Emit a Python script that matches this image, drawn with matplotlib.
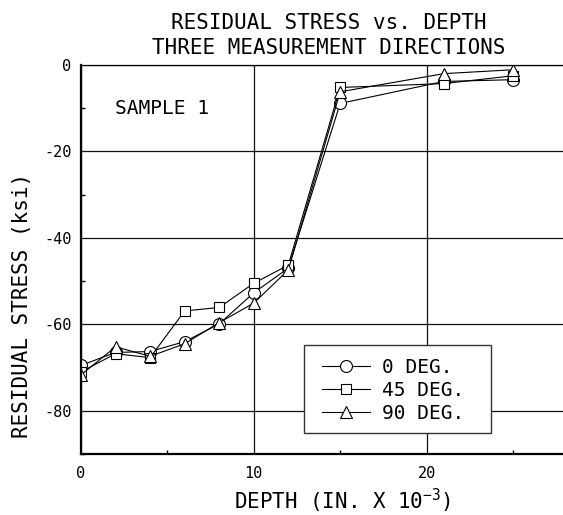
import matplotlib
matplotlib.use("Agg")
import matplotlib.pyplot as plt
from matplotlib.ticker import MultipleLocator
from matplotlib.patches import Rectangle

# ---- data ----
depth = [0, 2, 4, 6, 8, 10, 12, 15, 21, 25]
stress_0deg = [-69.5, -66.5, -66.3, -64.0, -59.9, -52.7, -47.0, -8.9, -3.8, -3.4]
stress_45deg = [-71.0, -66.8, -67.7, -56.9, -56.1, -50.5, -46.3, -5.2, -4.3, -2.5]
stress_90deg = [-71.7, -65.2, -67.4, -64.5, -59.6, -55.1, -47.4, -6.2, -2.0, -1.1]
labels = ["0 DEG.", "45 DEG.", "90 DEG."]
x_ticks = [0, 10, 20]
y_ticks = [0, -20, -40, -60, -80]

plt.rcParams['mathtext.fontset'] = 'custom'
plt.rcParams['mathtext.rm'] = 'DejaVu Sans Mono'
plt.rcParams['mathtext.it'] = 'DejaVu Sans Mono'
plt.rcParams['axes.unicode_minus'] = False

MONO = 'DejaVu Sans Mono'

W, H = 563, 515
fig = plt.figure(figsize=(W / 100, H / 100), dpi=100)
ax = fig.add_axes([81 / W, 1 - 454 / H, 1 - 81 / W, (454 - 65) / H])

series = [(stress_0deg, 'o', 8.6), (stress_45deg, 's', 7.6), (stress_90deg, '^', 9.2)]
for vals, mk, ms in series:
    ax.plot(depth, vals, color='black', lw=0.8, marker=mk, ms=ms,
            mfc='white', mec='black', mew=0.8)

ax.set_xlim(0, 27.9)
ax.set_ylim(-90, 0)
ax.set_xticks(x_ticks)
ax.set_yticks(y_ticks)
ax.xaxis.set_minor_locator(MultipleLocator(5))
ax.yaxis.set_minor_locator(MultipleLocator(10))
ax.tick_params(which='major', length=0, labelsize=11)
ax.tick_params(axis='y', which='major', pad=7)
ax.tick_params(axis='x', which='major', pad=9)
ax.tick_params(which='minor', direction='in', length=3, width=1)
for lab in ax.get_xticklabels() + ax.get_yticklabels():
    lab.set_fontfamily(MONO)
ax.grid(True, which='major', color='#111111', lw=0.9)
ax.set_axisbelow(True)

ax.spines['right'].set_visible(False)
ax.spines['top'].set_linewidth(0.9)
ax.spines['left'].set_linewidth(1.6)
ax.spines['bottom'].set_linewidth(1.6)

# legend frame
frame = Rectangle((304 / W, 1 - 433 / H), (491 - 304) / W, (433 - 345) / H,
                  transform=fig.transFigure, facecolor='white', edgecolor='#333333',
                  lw=1.0, zorder=5)
fig.add_artist(frame)
leg = fig.legend(ax.get_lines(), labels, loc='upper left',
                 bbox_to_anchor=(322 / W, 1 - 358 / H), bbox_transform=fig.transFigure,
                 prop={'family': MONO, 'size': 14}, frameon=False,
                 borderpad=0, handlelength=2.45, handletextpad=0.62,
                 labelspacing=0.2, borderaxespad=0)
leg.set_zorder(6)

ax.text(115 / W, 1 - 114 / H, "SAMPLE 1", transform=fig.transFigure,
        family=MONO, size=14, va='baseline', ha='left')

fig.text(329 / W, 1 - 29.4 / H, "RESIDUAL STRESS vs. DEPTH", family=MONO,
         size=15, ha='center', va='baseline')
fig.text(329 / W, 1 - 53.9 / H, "THREE MEASUREMENT DIRECTIONS", family=MONO,
         size=15, ha='center', va='baseline')
fig.text(343 / W, 1 - 509 / H, r"DEPTH (IN. X 10$^{-3}$)", family=MONO,
         size=15, ha='center', va='baseline')
fig.text(22 / W, 1 - 305 / H, "RESIDUAL STRESS (ksi)", family=MONO,
         size=15, ha='center', va='center', rotation=90)

fig.savefig("out.png", dpi=100)
